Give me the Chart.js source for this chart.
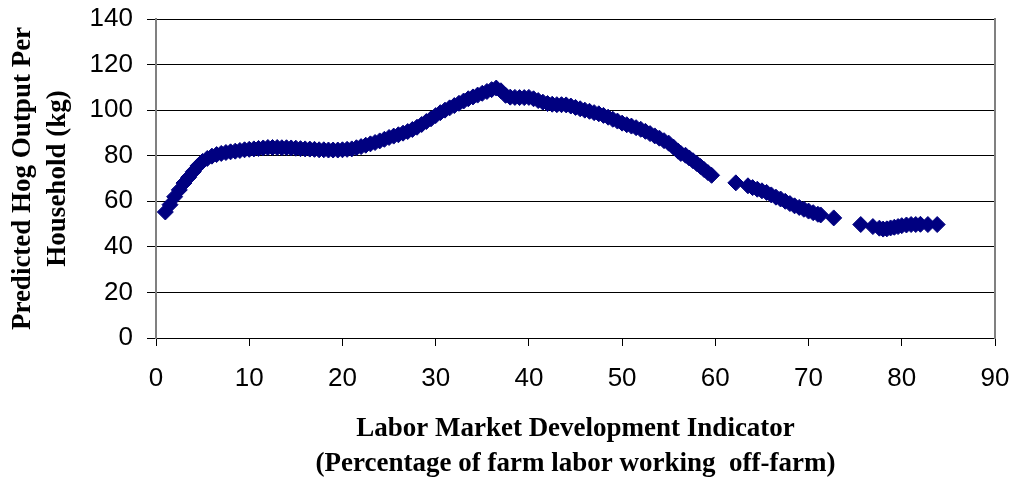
<!DOCTYPE html>
<html>
<head>
<meta charset="utf-8">
<script src="https://cdn.jsdelivr.net/npm/chart.js@4/dist/chart.umd.min.js"></script>
<style>
  html, body { margin: 0; padding: 0; background: #fff; }
  #wrap { width: 1016px; height: 481px; }
</style>
</head>
<body>
<div id="wrap"><canvas id="chart" width="1016" height="481"></canvas></div>
<script>
// labor market indicator (% of farm labor working off-farm)
const laborPct = [
  1.0, 1.5, 2.0, 2.5, 3.0, 3.5, 4.0, 4.5, 5.0, 5.5, 6.0, 6.5, 7.0, 7.5, 8.0, 8.5, 9.0, 9.5,
  10, 10.5, 11, 11.5, 12, 12.5, 13, 13.5, 14, 14.5, 15, 15.5, 16, 16.5, 17, 17.5, 18, 18.5, 19, 19.5,
  20, 20.5, 21, 21.5, 22, 22.5, 23, 23.5, 24, 24.5, 25, 25.5, 26, 26.5, 27, 27.5, 28, 28.5, 29, 29.5,
  30, 30.5, 31, 31.5, 32, 32.5, 33, 33.5, 34, 34.5, 35, 35.5, 36, 36.5, 37, 37.5, 38, 38.5, 39, 39.5,
  40, 40.5, 41, 41.5, 42, 42.5, 43, 43.5, 44, 44.5, 45, 45.5, 46, 46.5, 47, 47.5, 48, 48.5, 49, 49.5,
  50, 50.5, 51, 51.5, 52, 52.5, 53, 53.5, 54, 54.5, 55, 55.5, 56, 56.3,
  56.8, 57.2, 57.6, 58.0, 58.4, 58.8, 59.2, 59.6,
  62.2,
  63.5, 64.0, 64.5, 65.0, 65.5, 66.0, 66.5, 67.0, 67.5, 68.0, 68.5, 69.0, 69.5, 70.0, 70.5, 71.0, 71.3,
  72.7,
  75.6, 76.9, 77.6, 78.0, 78.4, 78.8, 79.2, 79.6, 80.0, 80.5, 81.0, 81.5, 82.0, 82.8, 83.8
];

// predicted hog output per household (kg)
const hogOutput = [
  55.3, 58.5, 62.0, 65.0, 68.0, 70.5, 73.0, 75.5, 77.5, 78.8, 79.8, 80.5, 81.0, 81.4, 81.7, 82.0, 82.3, 82.6,
  82.8, 83.0, 83.2, 83.4, 83.6, 83.6, 83.6, 83.5, 83.5, 83.4, 83.3, 83.1, 83.0, 82.9, 82.8, 82.6, 82.6, 82.5, 82.5, 82.5,
  82.6, 82.8, 83.0, 83.5, 84.0, 84.6, 85.2, 85.8, 86.5, 87.2, 88.0, 88.6, 89.2, 89.9, 90.6, 91.5, 92.5, 93.7, 95.0, 96.2,
  97.6, 98.9, 100.0, 101.0, 102.0, 103.0, 104.0, 105.0, 105.8, 106.6, 107.4, 108.2, 109.0, 109.7, 108.5, 106.5, 105.7, 105.6, 105.5, 105.5,
  105.6, 105.0, 104.2, 103.5, 102.9, 102.6, 102.4, 102.4, 102.3, 101.8, 101.2, 100.6, 100.0, 99.5, 98.9, 98.4, 97.7, 96.9, 96.0, 95.2,
  94.3, 93.6, 93.0, 92.3, 91.6, 90.7, 89.7, 88.7, 87.7, 86.6, 85.5, 83.8, 82.0, 81.0,
  80.2, 79.0, 77.8, 76.6, 75.3, 73.9, 72.6, 71.4,
  68.1,
  66.8, 66.0, 65.3, 64.6, 63.9, 62.8, 61.8, 61.0, 60.0, 59.0, 58.0, 57.3, 56.5, 55.7, 55.0, 54.3, 54.0,
  52.7,
  49.8, 48.9, 48.2, 47.8, 47.9, 48.3, 48.6, 48.9, 49.3, 49.6, 49.8, 49.8, 49.9, 49.8, 49.8
];

const points = laborPct.map((x, i) => ({ x: x, y: hogOutput[i] }));

const tickFont = { family: "'Liberation Sans', Arial, sans-serif", size: 26 };
const titleFont = { family: "'Liberation Serif', 'Times New Roman', serif", size: 27, weight: 'bold', lineHeight: 1.28 };

// keep tick label overhang from pushing the plot area around
function noPad(s) {
  s.paddingTop = 0;
  s.paddingBottom = 0;
  s.paddingLeft = 0;
  s.paddingRight = 0;
}

new Chart(document.getElementById('chart'), {
  type: 'scatter',
  data: {
    datasets: [{
      data: points,
      pointStyle: 'rectRot',
      pointRadius: 8,
      pointBorderWidth: 1,
      backgroundColor: '#000080',
      borderColor: '#000080'
    }]
  },
  options: {
    responsive: false,
    animation: false,
    layout: { padding: { top: 19, right: 21, left: 0, bottom: 0 } },
    plugins: {
      legend: { display: false },
      tooltip: { enabled: false }
    },
    scales: {
      x: {
        type: 'linear',
        min: 0,
        max: 90,
        afterFit: s => { s.height = 143; noPad(s); },
        ticks: { stepSize: 10, color: '#000', font: tickFont, padding: 17, maxRotation: 0 },
        grid: { drawOnChartArea: false, drawTicks: true, tickLength: 8, color: '#000' },
        border: { color: '#000', width: 1 },
        title: {
          display: true,
          text: ['Labor Market Development Indicator', '(Percentage of farm labor working  off-farm)'],
          color: '#000',
          font: titleFont,
          padding: { top: 0, bottom: 0 }
        }
      },
      y: {
        min: 0,
        max: 140,
        afterFit: s => { s.width = 156; noPad(s); },
        ticks: { stepSize: 20, color: '#000', font: tickFont, padding: 14 },
        grid: { color: '#000', lineWidth: 1, tickLength: 9 },
        border: { color: '#808080', width: 2 },
        title: {
          display: true,
          text: ['Predicted Hog Output Per', 'Household (kg)'],
          color: '#000',
          font: titleFont,
          padding: { top: 6, bottom: 0 }
        }
      },
      yRight: {
        position: 'right',
        min: 0,
        max: 140,
        afterFit: s => { s.width = 0; noPad(s); },
        ticks: { display: false },
        grid: { drawOnChartArea: false, drawTicks: false },
        border: { color: '#808080', width: 2 }
      }
    }
  }
});
</script>
</body>
</html>
